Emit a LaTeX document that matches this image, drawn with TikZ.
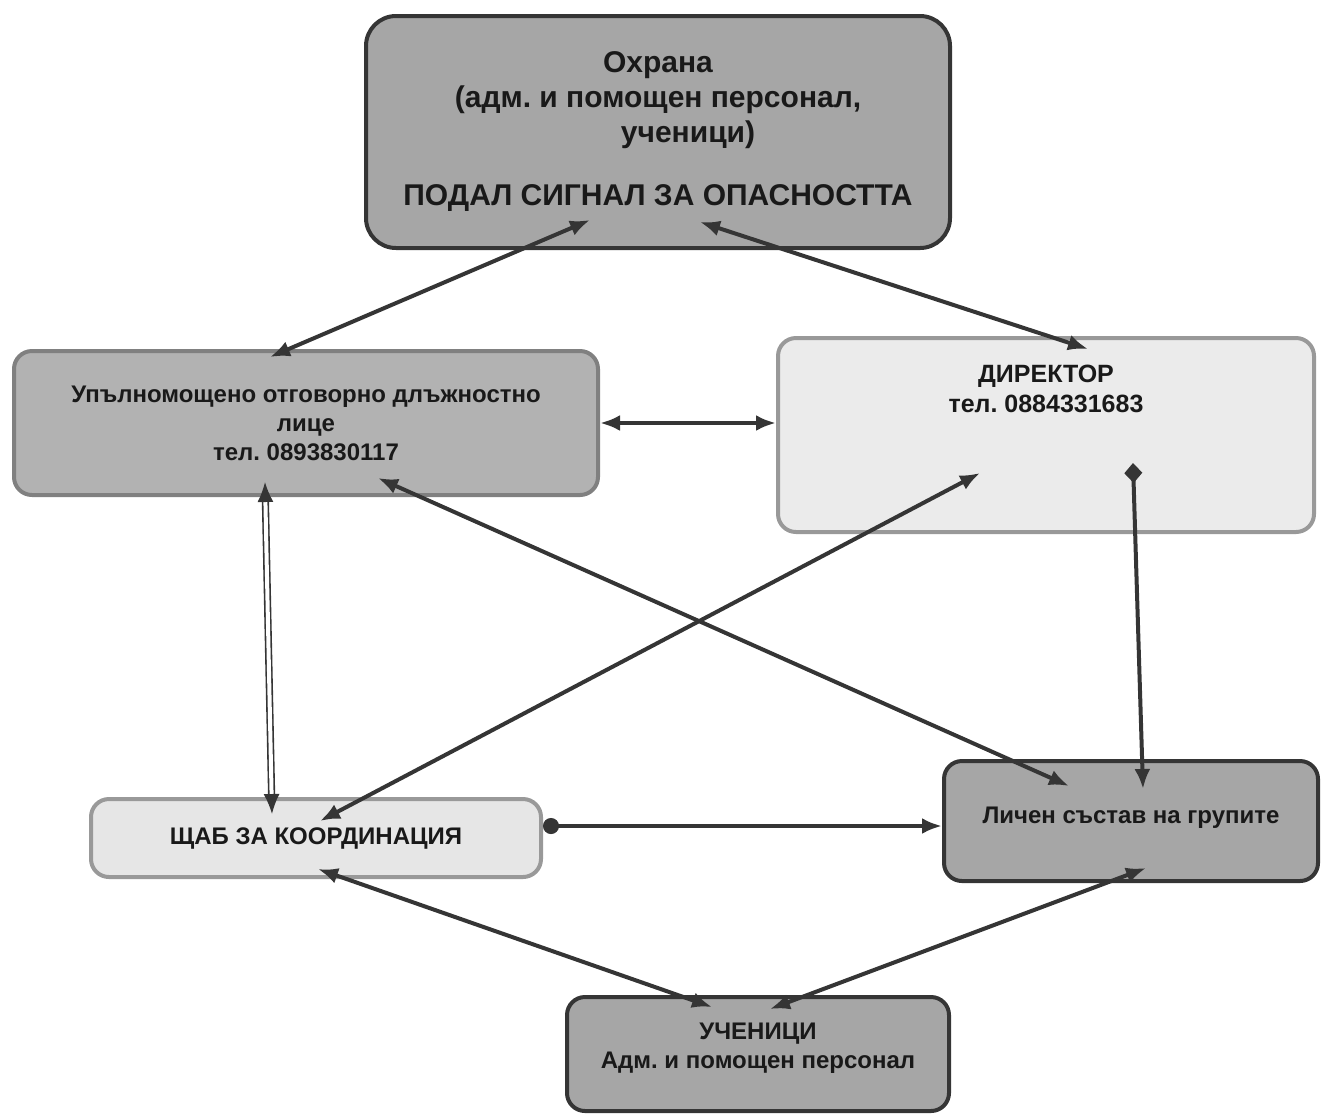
\documentclass[tikz,border=0pt]{standalone}
\usepackage{fontspec}
\setmainfont{Liberation Sans}
\frenchspacing
\usetikzlibrary{positioning,arrows.meta,calc}
\definecolor{linegray}{HTML}{353535}
\definecolor{midgray}{HTML}{A6A6A6}
\definecolor{lightgray}{HTML}{E6E6E6}
\begin{document}
\begin{tikzpicture}[x=.5pt,y=-.5pt,
    box/.style={rounded corners=9pt,align=center,text=black!90,font=\bfseries\fontsize{12}{14.5}\selectfont},
    darkbox/.style={box,fill=midgray,draw=linegray,line width=2pt},
    palebox/.style={box,fill=lightgray,draw=black!40,line width=2pt},
    arr/.tip={Latex[length=10pt,width=8pt]},
    conn/.style={draw=linegray,line width=2pt,arr-arr}]
    \useasboundingbox (0,0) rectangle (1321,1115);
    \node[darkbox,rounded corners=15pt,minimum width=292pt,minimum height=116pt,
        font=\bfseries\fontsize{15}{17.5}\selectfont] (ohrana) at (658,132)
        {Охрана\\(адм. и помощен персонал,\\\hspace*{2em}ученици)\\[14pt]ПОДАЛ СИГНАЛ ЗА ОПАСНОСТТА};
    \node[darkbox,draw=black!50,fill=black!30,minimum width=292pt,minimum height=72pt] (up) at (306,423)
        {Упълномощено отговорно длъжностно\\лице\\тел. 0893830117};
    \node[palebox,fill=black!8,minimum width=268pt,minimum height=97pt] (dir) at (1046,435) {};
    \node[align=center,font=\bfseries\fontsize{12.5}{15}\selectfont,text=black!90,below=11pt of dir.north]
        {ДИРЕКТОР\\тел. 0884331683};
    \node[palebox,minimum width=225pt,minimum height=39pt] (shtab) at (316,838) {ЩАБ ЗА КООРДИНАЦИЯ};
    \node[darkbox,minimum width=187pt,minimum height=60pt] (lichen) at (1131,821) {Личен състав на групите\\[-8.5pt]};
    \node[darkbox,minimum width=191pt,minimum height=57pt] (uch) at (758,1054)
        {УЧЕНИЦИ\\Адм. и помощен персонал\\[-6pt]};
    \draw[conn] ($(ohrana.south)+(-68,-30)$) -- ($(up.north)+(-36,8)$);
    \draw[conn] ($(ohrana.south)+(42,-28)$) -- ($(dir.north)+(42,13)$);
    \draw[conn] (up.east) -- (up.east -| dir.west);
    \draw[conn,line width=.8pt,double,double distance=2pt] ($(up.south)+(-41,-15)$) -- ($(shtab.north)+(-44,17)$);
    \draw[conn] ($(up.south)+(72,-19)$) -- ($(lichen.north)+(-62,27)$);
    \draw[conn] ($(shtab.north)+(4,24)$) -- ($(dir.south)+(-66,-61)$);
    \draw[conn,{Diamond[length=10pt,width=9pt]}-arr] ($(dir.south)+(87,-71)$) -- ($(lichen.north)+(12,30)$);
    \coordinate (link) at ($(shtab.east)+(0,-12)$);
    \draw[conn,{Circle[length=8pt]}-arr] (link) -- (link -| lichen.west);
    \draw[conn] ($(shtab.south)+(2,-10)$) -- ($(uch.north)+(-46,12)$);
    \draw[conn] ($(lichen.south)+(15,-15)$) -- ($(uch.north)+(12,14)$);
\end{tikzpicture}
\end{document}
